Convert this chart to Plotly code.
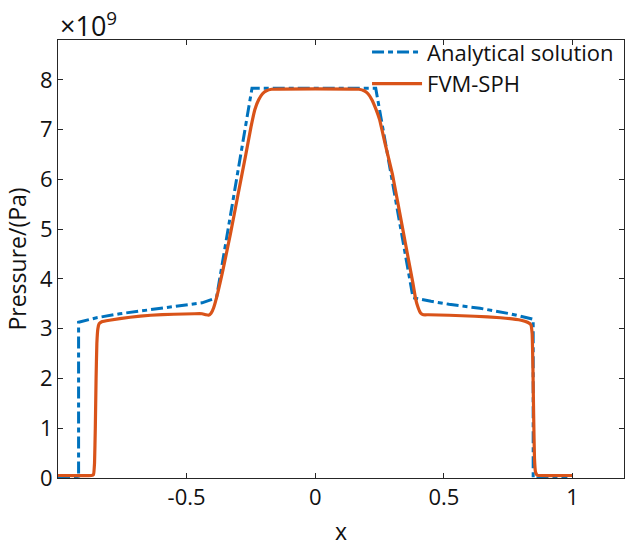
import plotly.graph_objects as go

# Analytical solution (pressure in units of 1e9 Pa)
x_analytical = [-1.0, -0.92, -0.92, -0.85, -0.76, -0.64, -0.5, -0.44, -0.384, -0.352, -0.306, -0.246,
                0.235, 0.298, 0.339, 0.38, 0.45, 0.52, 0.64, 0.757, 0.847, 0.847, 0.98]
p_analytical = [0.0, 0.0, 3.13, 3.22, 3.30, 3.38, 3.47, 3.52, 3.62, 4.6, 6.0, 7.83,
                7.83, 6.0, 4.8, 3.62, 3.55, 3.49, 3.41, 3.30, 3.19, 0.0, 0.0]

# FVM-SPH result (pressure in units of 1e9 Pa)
x_fvm = [-1.0, -0.87, -0.862, -0.858, -0.855, -0.852, -0.849, -0.845, -0.840, -0.83, -0.80, -0.72,
         -0.64, -0.55, -0.47, -0.44, -0.425, -0.415, -0.405, -0.395, -0.38, -0.36, -0.33, -0.30,
         -0.27, -0.25, -0.235, -0.22, -0.205, -0.19, -0.17,
         0.17, 0.19, 0.205, 0.22, 0.235, 0.25, 0.27, 0.30, 0.34, 0.36, 0.38, 0.39, 0.40, 0.41, 0.42,
         0.44, 0.52, 0.62, 0.72, 0.80, 0.825, 0.838, 0.843, 0.846, 0.849, 0.852, 0.856, 0.862,
         0.87, 1.0]
p_fvm = [0.05, 0.05, 0.07, 0.3, 1.0, 2.0, 2.7, 3.0, 3.1, 3.14, 3.17, 3.23,
         3.27, 3.29, 3.30, 3.30, 3.28, 3.27, 3.31, 3.42, 3.7, 4.15, 4.9, 5.7,
         6.5, 7.05, 7.4, 7.6, 7.72, 7.78, 7.81,
         7.81, 7.78, 7.72, 7.6, 7.42, 7.2, 6.75, 6.1, 5.0, 4.45, 3.9, 3.6, 3.42, 3.31, 3.28,
         3.28, 3.27, 3.25, 3.22, 3.17, 3.13, 3.08, 2.9, 2.2, 1.2, 0.4, 0.12, 0.06,
         0.05, 0.05]

x_ticks = [-0.5, 0, 0.5, 1]
x_ticklabels = ["-0.5", "0", "0.5", "1"]
y_ticks = [0, 1, 2, 3, 4, 5, 6, 7, 8]

FONT = "Open Sans"
AX = "#262626"
TXT = "#111111"

fig = go.Figure()
fig.add_trace(go.Scatter(x=x_analytical, y=p_analytical, mode="lines", name="Analytical solution",
                         line=dict(color="#0072BD", width=3, dash="12px,4px,5px,4px")))
fig.add_trace(go.Scatter(x=x_fvm, y=p_fvm, mode="lines", name="FVM-SPH",
                         line=dict(color="#D95319", width=3.2, shape="spline", smoothing=0.3)))

axis_common = dict(showgrid=False, zeroline=False, showline=True, linecolor=AX, linewidth=1,
                   mirror="ticks", ticks="inside", ticklen=5, tickcolor=AX, tickwidth=1,
                   tickfont=dict(family=FONT, size=22, color=TXT))

fig.update_xaxes(range=[-1.0, 1.2], tickvals=x_ticks, ticktext=x_ticklabels,
                 title=dict(text="x", font=dict(family=FONT, size=23, color=TXT), standoff=14),
                 **axis_common)
fig.update_yaxes(range=[0, 8.8], tickvals=y_ticks,
                 title=dict(text="Pressure/(Pa)", font=dict(family=FONT, size=23, color=TXT), standoff=6),
                 **axis_common)

fig.add_annotation(xref="paper", yref="paper", x=0.0, y=1.0, xanchor="left", yanchor="bottom",
                   text="×10<sup>9</sup>", showarrow=False, xshift=0, yshift=-6,
                   font=dict(family=FONT, size=27, color=TXT))

fig.update_layout(width=625, height=547, margin=dict(l=58, r=1, t=40, b=69),
                  plot_bgcolor="white", paper_bgcolor="white",
                  legend=dict(x=0.546, y=1.02, xanchor="left", yanchor="top", itemwidth=50,
                              bgcolor="rgba(0,0,0,0)", borderwidth=0,
                              font=dict(family=FONT, size=22, color=TXT)))

fig.write_html("out.html")
